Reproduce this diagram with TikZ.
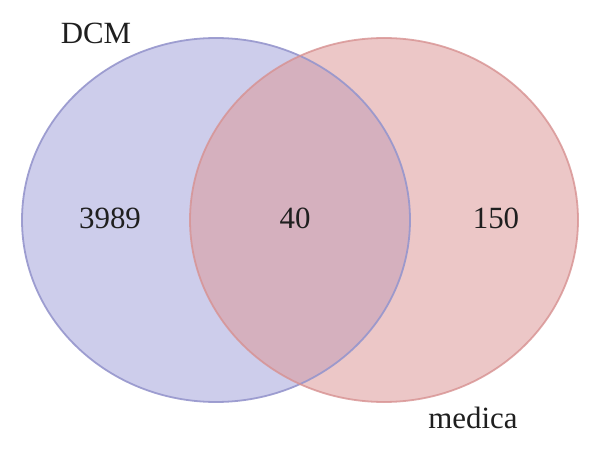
\documentclass[tikz,border=0pt]{standalone}
\usepackage{fontspec}
\setmainfont{Liberation Serif}
\definecolor{setA}{RGB}{130,130,205}
\definecolor{setAline}{RGB}{150,150,205}
\definecolor{setB}{RGB}{220,153,153}
\definecolor{setBline}{RGB}{215,145,145}
\begin{document}
\begin{tikzpicture}[x=1bp,y=-1bp,
  lbl/.style={font=\fontsize{31}{34}\selectfont, text=black!88, inner sep=0pt}]
\useasboundingbox (0,0) rectangle (600,451);
\fill[white] (0,0) rectangle (600,451);
\fill[setA, fill opacity=0.4] (216,220) ellipse [x radius=194, y radius=182];
\fill[setB, fill opacity=0.54] (384,220) ellipse [x radius=194, y radius=182];
\draw[setAline, line width=1.8bp, draw opacity=0.9] (216,220) ellipse [x radius=194, y radius=182];
\draw[setBline, line width=1.8bp, draw opacity=0.8] (384,220) ellipse [x radius=194, y radius=182];
\node[lbl] (dcm) at (96,33) {DCM};
\node[lbl] (a) at (110,218) {3989};
\node[lbl] (ab) at (295,218) {40};
\node[lbl] (b) at (496,218) {150};
\node[lbl] (med) at (473,418) {medica};
\end{tikzpicture}
\end{document}
